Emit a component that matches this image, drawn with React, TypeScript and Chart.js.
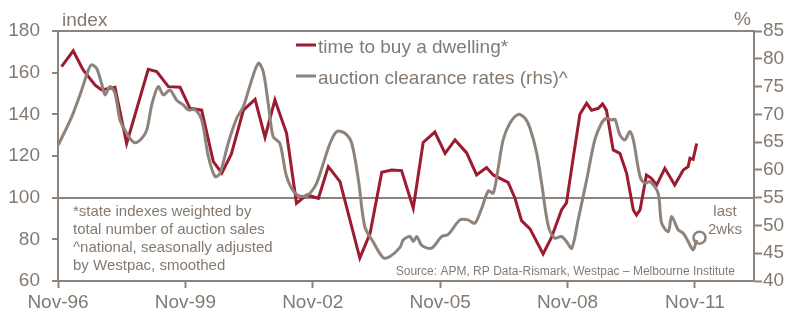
import React, { useEffect, useRef } from "react";
import { Chart, registerables } from "chart.js";

Chart.register(...registerables);

const FONT = "'Liberation Sans', Arial, sans-serif";
const RED = "#9c1b31";
const GRAY = "#8d837a";
const AXIS = "#8d837a";
const TEXT = "#85796f";

// x positions are months since Nov-96
const xTickMonths = [0, 36, 72, 108, 144, 180];
const xTickLabels = ["Nov-96", "Nov-99", "Nov-02", "Nov-05", "Nov-08", "Nov-11"];
const leftTicks = [60, 80, 100, 120, 140, 160, 180];
const rightTicks = [40, 45, 50, 55, 60, 65, 70, 75, 80, 85];

const timeToBuyMonths = [
  1, 4.3, 7.1, 10.5, 12.3, 16.1, 19.4, 25.5, 27.9, 31.2, 34.5, 37.3, 40.6, 43.9, 46.3, 49.0,
  52.4, 55.7, 58.5, 61.3, 64.6, 67.4, 70.3, 73.6, 76.4, 79.7, 85.3, 88.2, 91.5, 94.3, 97.1,
  100.4, 103.2, 106.5, 109.4, 112.2, 115.5, 118.3, 121.1, 123.0, 127.2, 129.1, 131.0, 133.4,
  137.1, 139.5, 142.3, 143.7, 145.6, 147.5, 149.4, 150.8, 152.7, 153.9, 155.0, 156.9, 158.8,
  160.7, 162.6, 163.5, 164.5, 166.3, 167.7, 169.2, 171.5, 174.3, 176.7, 178.1, 178.6, 179.5,
  180.5,
];
const timeToBuyValues = [
  162.9, 170.5, 161.3, 154, 151.7, 153, 126, 161.6, 160.5, 153.3, 153, 142.9, 142, 117.3, 111.8,
  121, 142, 147.2, 129, 146.9, 130.9, 97.3, 101.3, 99.7, 114.9, 107.7, 71, 82.9, 112.2, 113.3,
  113, 94.9, 126.5, 131.5, 121.3, 127.7, 121.5, 110.9, 114.5, 110.9, 107.3, 100, 89, 85, 73, 81,
  94.1, 97.5, 119, 140, 145.3, 142, 142.9, 145, 142, 122.9, 121.3, 111.7, 94.1, 91.7, 94.1,
  110.9, 109.3, 106.1, 114.1, 106.1, 113.3, 114.9, 118.9, 118.4, 126,
];

const clearanceMonths = [
  0.1, 3.9, 6.7, 8.6, 9.5, 10.9, 12.3, 13.3, 14.7, 16.1, 17.5, 18.9, 20.3, 21.8, 23.7, 25.1,
  26.5, 28.3, 29.8, 31.6, 33.5, 35.4, 36.8, 38.7, 40.6, 42.5, 44.4, 45.8, 48.1, 50.5, 52.4, 54.3,
  56.6, 58.0, 59.4, 60.8, 62.7, 64.6, 67.0, 69.3, 71.2, 73.1, 75.0, 76.9, 78.8, 81.1, 83.0, 84.9,
  86.7, 89.1, 91.9, 93.8, 96.6, 97.6, 99.5, 100.4, 101.4, 102.8, 105.6, 108.4, 110.3, 113.6,
  115.9, 117.8, 119.7, 121.6, 123.0, 124.4, 125.8, 127.7, 130.1, 132.0, 133.4, 135.3, 136.7,
  138.6, 140.4, 142.3, 143.7, 145.2, 147.0, 149.4, 151.7, 153.6, 155.0, 156.5, 157.4, 158.8,
  160.2, 161.6, 162.6, 164.5, 165.9, 167.3, 169.6, 170.6, 172.5, 173.4, 175.3, 176.7, 178.1,
  179.5, 180.5,
];
const clearanceValues = [
  64.5, 69.6, 74.4, 78, 78.9, 78.3, 75.6, 73.5, 75, 73.8, 69, 67.2, 65.7, 64.9, 65.7, 67.2, 71.7,
  75, 73.5, 74.4, 72.6, 71.7, 70.8, 70.8, 69, 62.4, 58.8, 59.4, 64.8, 69.3, 71.4, 75.3, 79.2,
  77.7, 72, 66, 64.8, 58.8, 55.8, 55.2, 55.8, 57.6, 61.2, 64.8, 66.9, 66.6, 64.8, 58.2, 49.8, 47,
  44.2, 44.4, 46, 47.4, 48, 47.1, 48, 46.4, 45.9, 48, 48.4, 51, 51, 50.4, 53, 56.2, 55.8, 60.3,
  65.4, 68.4, 70, 69.3, 67.5, 63, 57.5, 49.8, 47.7, 48, 47.1, 45.9, 51, 58.2, 65.4, 68.4, 69.3,
  69, 69.1, 66.3, 65.4, 66.9, 65.4, 58.8, 57.6, 57.9, 55.8, 50.4, 48.9, 51.6, 49.2, 48.6, 47.1,
  45.6, 47.4,
];

// "last 2wks" highlighted reading
const lastTwoWeeksMonth = [181.3];
const lastTwoWeeksValue = [47.8];

const legendLabels = ["time to buy a dwelling*", "auction clearance rates (rhs)^"];
const noteLines = [
  "*state indexes weighted by",
  "total number of auction sales",
  "^national, seasonally adjusted",
  "by Westpac, smoothed",
];
const sourceText = "Source: APM, RP Data-Rismark, Westpac \u2013 Melbourne Institute";

const textPlugin = {
  id: "textPlugin",
  afterDraw(chart: any) {
    const ctx = chart.ctx as CanvasRenderingContext2D;
    ctx.save();
    ctx.fillStyle = TEXT;
    ctx.textBaseline = "alphabetic";

    ctx.font = `19px ${FONT}`;
    ctx.textAlign = "left";
    ctx.fillText("index", 62, 26);
    ctx.textAlign = "right";
    ctx.fillText("%", 751, 25);

    // legend
    ctx.textAlign = "left";
    ctx.lineWidth = 3;
    ctx.strokeStyle = RED;
    ctx.beginPath();
    ctx.moveTo(296, 45);
    ctx.lineTo(316, 45);
    ctx.stroke();
    ctx.fillText(legendLabels[0], 318, 53);
    ctx.strokeStyle = GRAY;
    ctx.beginPath();
    ctx.moveTo(296, 76);
    ctx.lineTo(316, 76);
    ctx.stroke();
    ctx.fillText(legendLabels[1], 318, 84);

    // notes
    ctx.font = `15px ${FONT}`;
    noteLines.forEach((l, i) => ctx.fillText(l, 73, 216 + i * 18));

    ctx.textAlign = "center";
    ctx.fillText("last", 725, 216);
    ctx.fillText("2wks", 725, 234);

    ctx.font = `12px ${FONT}`;
    ctx.textAlign = "right";
    ctx.fillText(sourceText, 735, 275);
    ctx.restore();
  },
};

export default function App() {
  const ref = useRef<HTMLCanvasElement | null>(null);

  useEffect(() => {
    if (!ref.current) return;
    Chart.defaults.font.family = FONT;
    const tickFont = { size: 19, family: FONT };
    const chart = new Chart(ref.current, {
      type: "line",
      data: {
        datasets: [
          {
            label: "last 2wks",
            type: "scatter",
            data: lastTwoWeeksMonth.map((m, i) => ({ x: m, y: lastTwoWeeksValue[i] })),
            yAxisID: "y2",
            pointRadius: 6,
            pointBorderWidth: 2.5,
            pointBorderColor: GRAY,
            pointBackgroundColor: "rgba(0,0,0,0)",
            order: 0,
          } as any,
          {
            label: legendLabels[1],
            data: clearanceMonths.map((m, i) => ({ x: m, y: clearanceValues[i] })),
            yAxisID: "y2",
            borderColor: GRAY,
            borderWidth: 3,
            pointRadius: 0,
            tension: 0.3,
            order: 1,
          },
          {
            label: legendLabels[0],
            data: timeToBuyMonths.map((m, i) => ({ x: m, y: timeToBuyValues[i] })),
            yAxisID: "y",
            borderColor: RED,
            borderWidth: 3,
            pointRadius: 0,
            tension: 0,
            order: 2,
          },
        ],
      },
      options: {
        animation: false,
        responsive: false,
        layout: { padding: { top: 31, left: 0, right: 0, bottom: 0 } },
        plugins: { legend: { display: false }, tooltip: { enabled: false } },
        scales: {
          x: {
            type: "linear",
            min: 0,
            max: 196.7,
            afterBuildTicks: (s: any) => {
              s.ticks = xTickMonths.map((v) => ({ value: v }));
            },
            afterFit: (s: any) => {
              s.height = 47;
            },
            ticks: {
              callback: (v: any) => xTickLabels[xTickMonths.indexOf(Number(v))] ?? "",
              font: tickFont,
              color: TEXT,
              padding: 3,
              maxRotation: 0,
              autoSkip: false,
            },
            grid: { drawOnChartArea: false, tickLength: 7, tickColor: AXIS, tickWidth: 2 },
            border: { display: true, color: AXIS, width: 2 },
          },
          y: {
            position: "left",
            min: 60,
            max: 180,
            afterBuildTicks: (s: any) => {
              s.ticks = leftTicks.map((v) => ({ value: v }));
            },
            afterFit: (s: any) => {
              s.width = 58;
            },
            ticks: { font: tickFont, color: TEXT, padding: 12 },
            grid: {
              color: (c: any) =>
                c.tick && (c.tick.value === 100 || c.tick.value === 180) ? AXIS : "rgba(0,0,0,0)",
              lineWidth: 2,
              tickColor: AXIS,
              tickLength: 6,
              tickWidth: 2,
            },
            border: { display: true, color: AXIS, width: 2 },
          },
          y2: {
            position: "right",
            min: 40,
            max: 85,
            afterBuildTicks: (s: any) => {
              s.ticks = rightTicks.map((v) => ({ value: v }));
            },
            afterFit: (s: any) => {
              s.width = 53;
            },
            ticks: { font: tickFont, color: TEXT, padding: 1 },
            grid: { drawOnChartArea: false, tickColor: AXIS, tickLength: 8, tickWidth: 2 },
            border: { display: true, color: AXIS, width: 2 },
          },
        },
      },
      plugins: [textPlugin],
    });
    return () => chart.destroy();
  }, []);

  return (
    <div style={{ position: "fixed", left: 0, top: 0, width: 807, height: 328, background: "#fff" }}>
      <canvas ref={ref} width={807} height={328} />
    </div>
  );
}
